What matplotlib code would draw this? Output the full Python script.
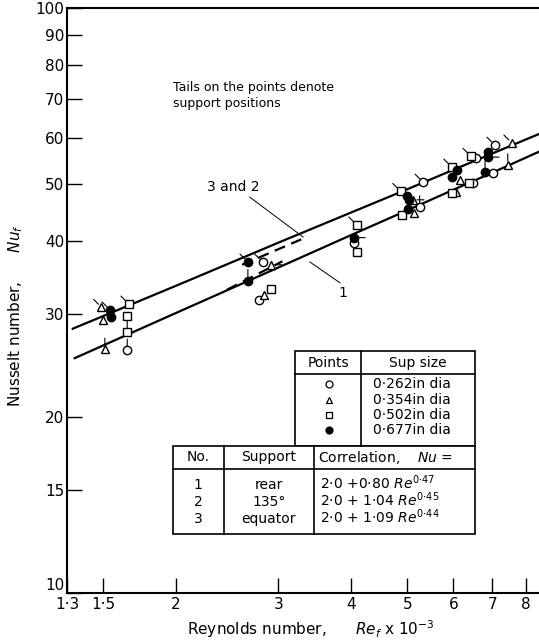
import numpy as np
import matplotlib
matplotlib.use("Agg")
import matplotlib.pyplot as plt
from matplotlib.lines import Line2D
from matplotlib.ticker import NullLocator

plt.rcParams['font.family'] = ['DejaVu Sans']
plt.rcParams['mathtext.fontset'] = 'dejavusans'

# correlation lines (Re_f x 1e-3, Nu_f)
line32_re = [1.33, 2.0, 3.0, 4.0, 5.0, 6.0, 7.0, 8.42]
line32_nu = [28.3, 33.5, 39.7, 44.7, 49.0, 52.9, 56.4, 60.9]
line1_re = [1.34, 2.0, 3.0, 4.0, 5.0, 6.0, 7.0, 8.42]
line1_nu = [25.2, 30.1, 36.0, 40.9, 45.1, 48.9, 52.3, 56.8]
# short dashed pieces where 2 and 3 separate
dash_a_re = [2.6, 3.3]
dash_a_nu = [36.4, 40.3]
dash_b_re = [2.45, 3.05]
dash_b_nu = [33.0, 36.9]

# data points: Re, Nu, tail angle (deg, None = no tail)
circ_re = [1.65, 2.82, 2.78, 4.05, 5.32, 5.25, 6.56, 6.48, 7.02, 7.07]
circ_nu = [26.0, 36.8, 31.7, 39.6, 50.4, 45.7, 55.4, 50.2, 52.3, 58.3]
circ_tail = [90, 135, None, None, 135, 90, None, None, None, 135]

tri_re = [1.49, 1.50, 1.51, 2.91, 2.84, 5.11, 5.13, 6.15, 6.06, 7.44, 7.56]
tri_nu = [30.8, 29.3, 26.1, 36.4, 32.3, 47.0, 44.6, 50.8, 48.5, 53.9, 58.8]
tri_tail = [135, None, 90, 0, None, 0, None, None, None, 90, 135]

sq_re = [1.66, 1.65, 1.65, 2.92, 4.09, 4.09, 4.87, 4.89, 5.96, 5.96, 6.43, 6.38]
sq_nu = [31.2, 29.8, 27.9, 33.1, 42.6, 38.2, 48.6, 44.3, 53.5, 48.3, 55.8, 50.2]
sq_tail = [135, None, 90, None, 135, None, 135, None, 135, None, 135, None]

dot_re = [1.54, 1.55, 2.66, 2.66, 4.05, 4.99, 5.03, 5.01, 6.08, 5.96, 6.88, 6.88, 6.80]
dot_nu = [30.5, 29.6, 36.8, 34.2, 40.5, 47.7, 46.9, 45.3, 52.9, 51.4, 55.6, 56.7, 52.5]
dot_tail = [135, None, 135, 90, 0, 135, None, None, None, None, 0, None, 90]

xticks = [1.3, 1.5, 2, 3, 4, 5, 6, 7, 8]
xlabels = ['1·3', '1·5', '2', '3', '4', '5', '6', '7', '8']
yticks = [10, 15, 20, 30, 40, 50, 60, 70, 80, 90, 100]

sizes = ['0·262in dia', '0·354in dia', '0·502in dia', '0·677in dia']
nos = ['1', '2', '3']
supports = ['rear', '135°', 'equator']
correl = [r'2·0 +0·80 $Re^{0{\cdot}47}$', r'2·0 + 1·04 $Re^{0{\cdot}45}$',
          r'2·0 + 1·09 $Re^{0{\cdot}44}$']

W, H = 539, 644
fig = plt.figure(figsize=(W / 100, H / 100), dpi=100)
ax = fig.add_axes([67 / W, 1 - 593 / H, (W - 67) / W, 585 / H])


def fx(x):
    return x / W


def fy(y):
    return 1 - y / H


ax.set_xscale('log')
ax.set_yscale('log')
ax.set_xlim(1.3, 8.42)
ax.set_ylim(10, 100)

ax.plot(line32_re, line32_nu, color='black', lw=1.6)
ax.plot(line1_re, line1_nu, color='black', lw=1.6)
ax.plot(dash_a_re, dash_a_nu, color='black', lw=1.6, ls=(0, (5, 3)))
ax.plot(dash_b_re, dash_b_nu, color='black', lw=1.6, ls=(0, (5, 3)))

ms = 6
groups = [(circ_re, circ_nu, circ_tail, 'o', 'white'),
          (tri_re, tri_nu, tri_tail, '^', 'white'),
          (sq_re, sq_nu, sq_tail, 's', 'white'),
          (dot_re, dot_nu, dot_tail, 'o', 'black')]
for xs, ys, tails, mk, fc in groups:
    ax.plot(xs, ys, ls='none', marker=mk, ms=ms, mfc=fc, mec='black',
            mew=1.0, zorder=4)
    for x, y, t in zip(xs, ys, tails):
        if t is None:
            continue
        a = np.deg2rad(t)
        ax.annotate('', xy=(x, y), xytext=(8 * np.cos(a), 8 * np.sin(a)),
                    textcoords='offset points',
                    arrowprops=dict(arrowstyle='-', lw=0.8, color='black',
                                    shrinkA=0, shrinkB=3), zorder=3)

# labels on the lines
ax.text(2.51, 49.4, '3 and 2', fontsize=10, ha='center', va='center')
ax.plot([2.68, 3.31], [47.5, 40.6], color='black', lw=0.7)
ax.text(3.88, 32.6, '1', fontsize=10, ha='center', va='center')
ax.plot([3.40, 3.83], [36.8, 33.9], color='black', lw=0.7)

ax.xaxis.set_minor_locator(NullLocator())
ax.yaxis.set_minor_locator(NullLocator())
ax.set_xticks(xticks, xlabels)
ax.set_yticks(yticks, [str(v) for v in yticks])
ax.tick_params(direction='in', length=11, width=1, labelsize=11, pad=3)
ax.tick_params(axis='y', pad=2)
ax.get_yticklabels()[0].set_va('bottom')
for s in ['left', 'bottom', 'top']:
    ax.spines[s].set_linewidth(1.5)
ax.spines['right'].set_visible(False)

ax.set_ylabel('Nusselt number,      $Nu_f$', fontsize=11, va='center')
ax.yaxis.set_label_coords(-0.108, 0.475)
ax.set_xlabel('Reynolds number,      $Re_f$ x 10$^{-3}$', fontsize=11,
              va='center')
ax.xaxis.set_label_coords(0.517, -0.062)

fig.text(fx(173), fy(88), 'Tails on the points denote', fontsize=9,
         va='center')
fig.text(fx(173), fy(103), 'support positions', fontsize=9, va='center')


def seg(x0, y0, x1, y1, lw=1.2):
    fig.add_artist(Line2D([fx(x0), fx(x1)], [fy(y0), fy(y1)], color='black',
                          lw=lw, zorder=6))


def box(x0, y0, x1, y1):
    fig.add_artist(plt.Rectangle((fx(x0), fy(y1)), fx(x1) - fx(x0),
                                 fy(y0) - fy(y1), transform=fig.transFigure,
                                 facecolor='white', edgecolor='black',
                                 lw=1.2, zorder=5))


# table of point symbols
box(295, 351, 475, 446)
seg(295, 374, 475, 374)
seg(361, 351, 361, 446)
fig.text(fx(328), fy(363), 'Points', fontsize=10, ha='center', va='center',
         zorder=7)
fig.text(fx(418), fy(363), 'Sup size', fontsize=10, ha='center',
         va='center', zorder=7)
sym = [('o', 'white'), ('^', 'white'), ('s', 'white'), ('o', 'black')]
rows_up = [384, 400, 415, 430]
for (mk, fc), yy, txt in zip(sym, rows_up, sizes):
    fig.add_artist(Line2D([fx(329)], [fy(yy)], marker=mk, ms=5, mfc=fc,
                          mec='black', mew=0.9, ls='none', zorder=7))
    fig.text(fx(373), fy(yy), txt, fontsize=10, va='center', zorder=7)

# table of correlations
box(173, 446, 475, 534)
seg(173, 469, 475, 469)
seg(224, 446, 224, 534)
seg(314, 446, 314, 534)
fig.text(fx(198), fy(457), 'No.', fontsize=10, ha='center', va='center',
         zorder=7)
fig.text(fx(269), fy(457), 'Support', fontsize=10, ha='center',
         va='center', zorder=7)
fig.text(fx(318), fy(457), 'Correlation,    $Nu$ =', fontsize=10,
         va='center', zorder=7)
rows_lo = [485, 502, 519]
for yy, n, s, c in zip(rows_lo, nos, supports, correl):
    base = fy(yy + 4)
    fig.text(fx(198), base, n, fontsize=10, ha='center', va='baseline',
             zorder=7)
    fig.text(fx(269), base, s, fontsize=10, ha='center', va='baseline',
             zorder=7)
    fig.text(fx(320), base, c, fontsize=10, va='baseline', zorder=7)

fig.savefig('out.png', dpi=100)
